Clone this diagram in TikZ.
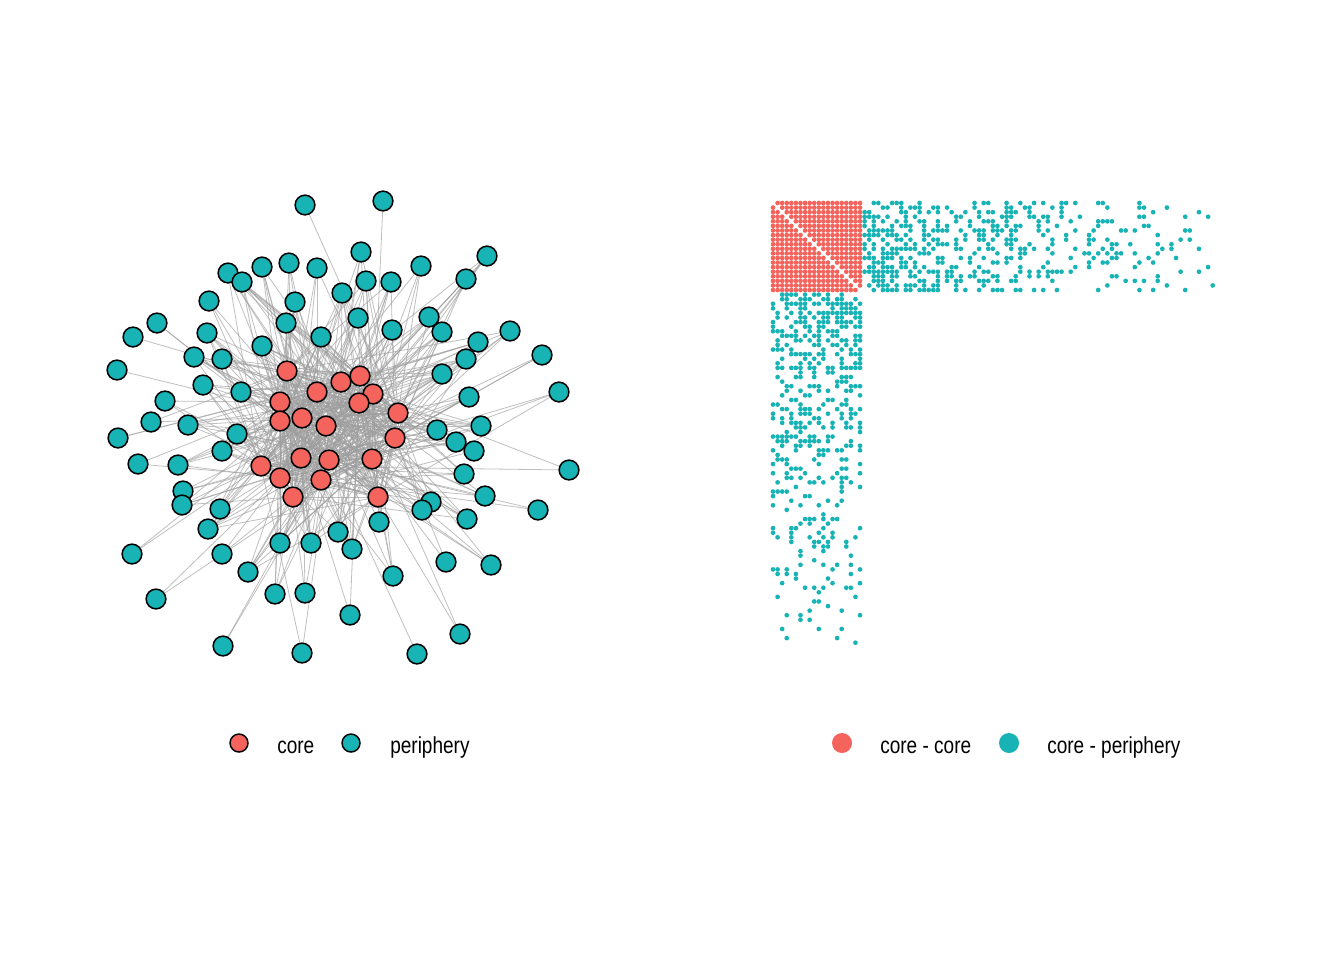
\documentclass[tikz,border=0pt]{standalone}
\usepackage{fontspec}
\setmainfont[FakeStretch=0.82]{Liberation Sans}
\usetikzlibrary{backgrounds}
\pgfdeclarelayer{bottom}
\pgfsetlayers{bottom,background,main}
\definecolor{corered}{HTML}{F4645D}
\definecolor{periteal}{HTML}{17B3B5}
\begin{document}
\begin{tikzpicture}[x=0.75pt,y=-0.75pt,
  pnode/.style={circle,draw=black,line width=1.15pt,fill=periteal,minimum size=14.8pt,inner sep=0pt},
  cnode/.style={pnode,fill=corered},
  edge/.style={draw=black!38,line width=0.6pt,opacity=0.65},
  legtext/.style={anchor=base west,inner sep=0pt,font=\fontsize{17.4}{20}\selectfont},
  legdot/.style={circle,inner sep=0pt,minimum size=15pt}]
\begin{pgfonlayer}{bottom}
\fill[white] (0,0) rectangle (1344,960);
\end{pgfonlayer}
\useasboundingbox (0,0) rectangle (1344,960);
\pgfmathsetseed{7}
% ---------------- network ----------------
\def\clist{287/371, 341/382, 360/376, 317/392, 373/394, 280/402, 359/403, 398/413, 280/421, 302/418, 326/426, 395/438, 301/458, 329/460, 372/459, 261/466, 280/478, 321/480, 293/497, 378/497}
\def\plist{305/205, 383/201, 361/252, 487/256, 228/273, 242/282, 262/267, 289/263, 317/268, 366/281,
391/282, 421/266, 466/279, 209/301, 295/302, 342/293, 157/323, 133/337, 207/333, 286/323,
321/337, 358/318, 392/330, 429/317, 442/332, 478/342, 510/331, 542/355, 194/357, 222/359,
262/346, 466/359, 117/370, 203/385, 241/392, 442/374, 559/392, 165/401, 469/397, 151/422,
188/425, 237/434, 118/438, 437/430, 456/442, 474/451, 481/426, 222/451, 138/464, 178/465,
464/474, 569/470, 183/491, 182/505, 220/509, 431/502, 422/510, 485/496, 538/510, 208/529,
379/522, 467/519, 338/532, 280/543, 311/543, 352/549, 132/554, 222/554, 446/562, 491/565,
248/572, 393/576, 156/599, 275/594, 305/593, 350/615, 460/634, 223/646, 302/653, 417/654}
\foreach \x/\y [count=\k] in \clist {\node[cnode] (c\k) at (\x,\y) {};}
\begin{pgfonlayer}{background}
\foreach \a in {1,...,20}{\foreach \b in {1,...,20}{\ifnum\a<\b \draw[edge] (c\a) -- (c\b);\fi}}
\end{pgfonlayer}
\foreach \x/\y [count=\k] in \plist {
  \node[pnode] (p\k) at (\x,\y) {};
  \pgfmathsetmacro\pp{max(0.05,0.62-0.0024*veclen(\x-330,\y-430))}
  \pgfmathtruncatemacro\first{mod(\k*7,20)+1}
  \begin{pgfonlayer}{background}
  \draw[edge] (p\k) -- (c\first);
  \foreach \c in {1,...,20}{
    \pgfmathtruncatemacro\hit{(rnd<\pp)&&(\c!=\first)}
    \ifnum\hit=1 \draw[edge] (p\k) -- (c\c);\fi
  }
  \end{pgfonlayer}
}
% ---------------- matrix ----------------
\foreach \i in {0,...,19}{\foreach \j in {0,...,19}{
  \ifnum\i=\j\else\fill[corered] ({773+\j*4.58},{203+\i*4.58}) circle (2.35);\fi}}
\foreach \k in {0,...,79}{
  \pgfmathsetmacro\pk{0.55*(1-\k/80)^1.3+0.025}
  \foreach \i in {0,...,19}{
  \pgfmathtruncatemacro\hit{rnd<\pk}
  \ifnum\hit=1
    \fill[periteal] ({773+(20+\k)*4.58},{203+\i*4.58}) circle (2.35);
    \fill[periteal] ({773+\i*4.58},{203+(20+\k)*4.58}) circle (2.35);
  \fi}}
% ---------------- legends ----------------
\node[legdot,draw=black,line width=1.1pt,fill=corered,minimum size=13.5pt] (lc) at (239,743) {};
\node[legtext] (lct) at (277,753) {core};
\node[legdot,draw=black,line width=1.1pt,fill=periteal,minimum size=13.5pt] (lp) at (351,743) {};
\node[legtext] (lpt) at (390,753) {periphery};
\node[legdot,fill=corered] (rc) at (842,743) {};
\node[legtext] (rct) at (880,753) {core - core};
\node[legdot,fill=periteal] (rp) at (1009,743) {};
\node[legtext] (rpt) at (1047,753) {core - periphery};
\end{tikzpicture}
\end{document}
